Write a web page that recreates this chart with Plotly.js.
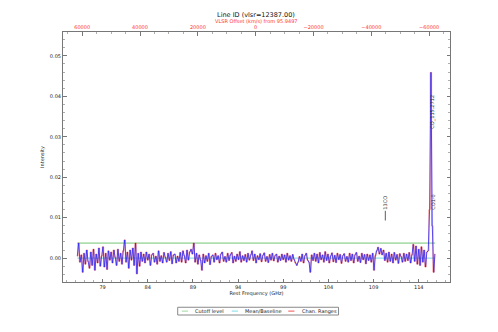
<!DOCTYPE html>
<html>
<head>
<meta charset="utf-8">
<script src="https://cdn.plot.ly/plotly-3.0.1.min.js"></script>
<style>html,body{margin:0;padding:0;background:#fff;}#chart{width:498px;height:332px;}</style>
</head>
<body>
<div id="chart"></div>
<script>
// ---- data ----
var freqStart = 76.2;      // GHz, first channel
var freqStep = 0.15;       // GHz per channel
var intensity = [
  0.0005, 0.0037, -0.0010, 0.0008, -0.0035, 0.0012, -0.0015, 0.0020, -0.0008, -0.0025,
  0.0015, -0.0018, 0.0022, -0.0030, 0.0010, -0.0012, 0.0025, -0.0020, 0.0005, 0.0028,
  -0.0022, 0.0012, -0.0028, 0.0018, -0.0005,
  0.0015, -0.0012, 0.0020, 0.0002, -0.0018, 0.0022, -0.0008, 0.0012, -0.0015, 0.0018,
  0.0045, -0.0010, 0.0015, -0.0025, 0.0020, -0.0005, 0.0025, -0.0018, 0.0037, -0.0039,
  0.0012, -0.0020, 0.0015, -0.0008, 0.0010,
  -0.0012, 0.0015, -0.0005, 0.0010, -0.0018, 0.0008, 0.0012, -0.0010, 0.0005, -0.0015,
  0.0018, -0.0008, 0.0006, -0.0012, 0.0014, 0.0002, -0.0010, 0.0012, -0.0006, 0.0016,
  -0.0014, 0.0008, 0.0010, -0.0012, 0.0005,
  -0.0008, 0.0014, -0.0010, 0.0018, 0.0006, -0.0012, 0.0020, -0.0005, 0.0015, 0.0022,
  0.0010, 0.0037, -0.0010, 0.0012, -0.0015, 0.0008, -0.0005, -0.0030, 0.0010, -0.0012,
  0.0006, -0.0008, 0.0012, -0.0016, 0.0004,
  0.0008, -0.0010, 0.0012, -0.0004, 0.0006, -0.0012, 0.0010, 0.0015, -0.0008, 0.0004,
  -0.0010, 0.0012, -0.0006, 0.0008, 0.0014, -0.0012, 0.0005, -0.0008, 0.0010, -0.0004,
  0.0016, -0.0010, 0.0006, -0.0006, 0.0009,
  -0.0010, 0.0012, -0.0005, 0.0008, 0.0018, -0.0006, 0.0010, -0.0012, 0.0006, -0.0004,
  0.0011, -0.0009, 0.0007, 0.0013, -0.0008, 0.0004, -0.0011, 0.0009, -0.0005, 0.0012,
  -0.0007, 0.0006, 0.0010, -0.0010, 0.0005,
  -0.0006, 0.0010, -0.0004, 0.0008, -0.0010, 0.0012, -0.0005, 0.0006, -0.0008, 0.0009,
  -0.0003, -0.0012, -0.0018, -0.0010, 0.0004, -0.0008, 0.0010, -0.0012, 0.0006, 0.0012,
  -0.0005, -0.0010, -0.0035, 0.0008, -0.0006,
  0.0012, -0.0008, 0.0010, -0.0012, 0.0014, -0.0004, 0.0008, -0.0010, 0.0016, -0.0006,
  0.0010, -0.0012, 0.0005, 0.0013, -0.0009, 0.0007, -0.0011, 0.0012, -0.0004, 0.0009,
  -0.0013, 0.0006, 0.0011, -0.0008, 0.0004,
  -0.0010, 0.0012, -0.0006, 0.0010, -0.0012, 0.0008, 0.0014, -0.0008, 0.0005, -0.0011,
  0.0012, -0.0004, 0.0009, -0.0014, 0.0010, -0.0006, 0.0008, -0.0010, 0.0012, -0.0030,
  0.0006, 0.0018, 0.0027, 0.0010, 0.0024,
  0.0008, 0.0020, -0.0006, 0.0012, -0.0010, 0.0015, -0.0008, 0.0010, -0.0012, 0.0014,
  -0.0005, 0.0009, -0.0013, 0.0011, 0.0004, -0.0010, 0.0012, -0.0008, 0.0010, -0.0006,
  0.0014, -0.0012, 0.0008, 0.0034, -0.0008,
  0.0030, -0.0015, 0.0022, -0.0018, 0.0028, -0.0010, 0.0020, -0.0022, 0.0015, 0.0018,
  0.0120, 0.0459, 0.0080, -0.0035, 0.0010
];
var cutoffLevel = 0.0037;
var baselineLevel = 0.0;
var restFreqRef = 95.9497;   // GHz, velocity reference
var vlsr = 12387.00;
var lineNames = ["13CO", "CO1-0", "CO_115.2712"];
var lineFreqs = [110.30, 115.50, 115.58];
var labelY = [0.0138, 0.0140, 0.0362];
var lineHasTick = [true, false, false];
var legendNames = ["Cutoff level", "Mean/Baseline", "Chan. Ranges"];

// ---- build ----
var freqs = intensity.map(function (v, i) { return +(freqStart + freqStep * i).toFixed(4); });
var fMin = freqs[0], fMax = freqs[freqs.length - 1];
var xRange = [74.62, 117.46];
var cLight = 299792.458;
function toVel(f) { return cLight * (1 - f / restFreqRef); }

var font = "DejaVu Sans, Liberation Sans, sans-serif";
var colGreen = "rgba(120,200,120,0.6)";
var colCyan = "rgba(90,210,225,0.65)";
var colRed = "rgba(240,50,50,0.7)";

var traces = [
  { x: [fMin, fMax], y: [cutoffLevel, cutoffLevel], mode: "lines", name: legendNames[0],
    line: { color: colGreen, width: 1.6 }, hoverinfo: "skip" },
  { x: [fMin, fMax], y: [baselineLevel, baselineLevel], mode: "lines", name: legendNames[1],
    line: { color: colCyan, width: 1.1 }, hoverinfo: "skip" },
  { x: freqs, y: intensity, mode: "lines", name: legendNames[2],
    line: { color: colRed, width: 0.8, shape: "hvh" } },
  { x: freqs, y: intensity, mode: "lines", name: "Spectrum",
    line: { color: "#2020ff", width: 0.75 } },
  { x: [xRange[0]], y: [0], xaxis: "x2", mode: "markers",
    marker: { opacity: 0 }, hoverinfo: "skip" }
];

var annotations = [];
var shapes = [];
lineNames.forEach(function (n, i) {
  annotations.push({ x: lineFreqs[i], y: labelY[i], xref: "x", yref: "y", text: n,
    showarrow: false, textangle: -90, font: { family: font, size: 5, color: "#333" } });
  if (lineHasTick[i]) {
    shapes.push({ type: "line", xref: "x", yref: "y", x0: lineFreqs[i], x1: lineFreqs[i],
      y0: labelY[i] - 0.0021, y1: labelY[i] - 0.0045, line: { color: "#333", width: 0.8 } });
  }
});

// top axis title (placed as text between the main title and the top tick labels)
annotations.push({ x: 0.5, y: 1 + 10.5 / 250, xref: "paper", yref: "paper", xanchor: "center", yanchor: "middle",
  text: "VLSR Offset (km/s) from " + restFreqRef, showarrow: false,
  font: { family: font, size: 5, color: "#ff3030" } });

// legend below the plot (matplotlib style box)
var legBox = { x0: 0.2964, x1: 0.712, y0: -0.101, y1: -0.132 };
shapes.push({ type: "rect", xref: "paper", yref: "paper", x0: legBox.x0, x1: legBox.x1, y0: legBox.y0, y1: legBox.y1,
  line: { color: "#888", width: 1 }, fillcolor: "#fff" });
var legLineX = [0.307, 0.436, 0.582];
var legColors = [colGreen, colCyan, colRed];
var legY = (legBox.y0 + legBox.y1) / 2;
legendNames.forEach(function (n, i) {
  shapes.push({ type: "line", xref: "paper", yref: "paper", x0: legLineX[i], x1: legLineX[i] + 0.016,
    y0: legY, y1: legY, line: { color: legColors[i], width: 1.2 } });
  annotations.push({ x: legLineX[i] + 0.03, y: legY, xref: "paper", yref: "paper", xanchor: "left", yanchor: "middle",
    text: n, showarrow: false, font: { family: font, size: 5, color: "#222" } });
});

var axisCommon = {
  showgrid: false, zeroline: false, showline: true, linecolor: "#777", linewidth: 1,
  ticks: "inside", ticklen: 3.5, tickcolor: "#555", tickwidth: 0.8,
  tickfont: { family: font, size: 5, color: "#222" }
};

var layout = {
  width: 498, height: 332,
  margin: { l: 63, r: 48, t: 32, b: 50, pad: 0 },
  paper_bgcolor: "#fff", plot_bgcolor: "#fff",
  showlegend: false,
  title: { text: "Line ID (vlsr=" + vlsr.toFixed(2) + ")", font: { family: font, size: 6.5, color: "#111" },
    x: 0.514, xanchor: "center", y: 1 - 14.5 / 332, yanchor: "middle", yref: "container" },
  xaxis: Object.assign({}, axisCommon, {
    range: xRange, tick0: 79, dtick: 5, mirror: true,
    minor: { dtick: 1, tick0: 79, ticks: "inside", ticklen: 2, tickcolor: "#777", tickwidth: 0.6 },
    title: { text: "Rest Frequency (GHz)", font: { family: font, size: 5, color: "#222" }, standoff: 0 }
  }),
  xaxis2: Object.assign({}, axisCommon, {
    overlaying: "x", side: "top", anchor: "y",
    range: [toVel(xRange[0]), toVel(xRange[1])], tick0: 0, dtick: 20000, tickformat: "d",
    tickfont: { family: font, size: 5, color: "#ff3030" },
    minor: { dtick: 5000, tick0: 0, ticks: "inside", ticklen: 2, tickcolor: "#777", tickwidth: 0.6 }
  }),
  yaxis: Object.assign({}, axisCommon, {
    range: [-0.0059, 0.0559], tick0: 0, dtick: 0.01, tickformat: ".2f", mirror: "ticks",
    minor: { dtick: 0.002, tick0: 0, ticks: "inside", ticklen: 2, tickcolor: "#777", tickwidth: 0.6 },
    title: { text: "Intensity", font: { family: font, size: 5, color: "#222" }, standoff: 5 }
  }),
  annotations: annotations,
  shapes: shapes
};

Plotly.newPlot("chart", traces, layout, { displayModeBar: false, staticPlot: true });
</script>
</body>
</html>
